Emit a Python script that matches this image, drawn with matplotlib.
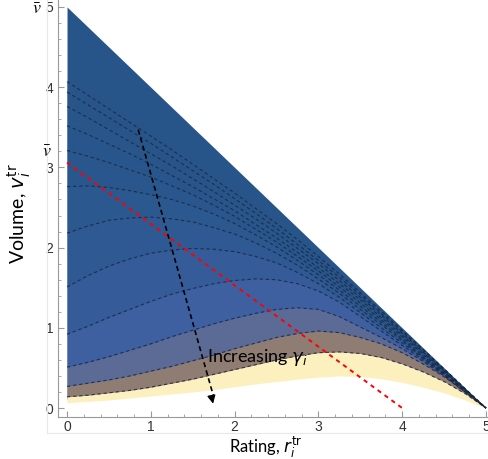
import matplotlib
matplotlib.use("Agg")
import matplotlib.pyplot as plt
from matplotlib.lines import Line2D
import numpy as np

# rating grid and boundary curves (volume)
rating = [0, 0.25, 0.5, 0.75, 1, 1.25, 1.5, 1.75, 2, 2.25, 2.5, 2.75, 3,
          3.25, 3.5, 3.75, 4, 4.25, 4.5, 4.75, 5]
v_max = [5, 4.75, 4.5, 4.25, 4, 3.75, 3.5, 3.25, 3, 2.75, 2.5, 2.25, 2,
         1.75, 1.5, 1.25, 1, 0.75, 0.5, 0.25, 0]
curves = [
    [4.07, 3.90, 3.73, 3.56, 3.39, 3.22, 3.04, 2.86, 2.68, 2.49, 2.30, 2.10, 1.89, 1.67, 1.44, 1.21, 0.97, 0.73, 0.49, 0.245, 0],
    [3.94, 3.78, 3.62, 3.46, 3.30, 3.13, 2.96, 2.79, 2.61, 2.43, 2.24, 2.04, 1.84, 1.63, 1.41, 1.18, 0.95, 0.72, 0.48, 0.24, 0],
    [3.76, 3.62, 3.47, 3.32, 3.17, 3.02, 2.86, 2.70, 2.53, 2.36, 2.18, 1.99, 1.80, 1.59, 1.38, 1.16, 0.93, 0.70, 0.47, 0.235, 0],
    [3.52, 3.41, 3.29, 3.17, 3.04, 2.90, 2.76, 2.61, 2.46, 2.29, 2.12, 1.94, 1.75, 1.55, 1.35, 1.13, 0.91, 0.69, 0.46, 0.23, 0],
    [3.21, 3.14, 3.06, 2.97, 2.88, 2.77, 2.66, 2.53, 2.39, 2.23, 2.07, 1.89, 1.71, 1.51, 1.31, 1.10, 0.89, 0.67, 0.45, 0.225, 0],
    [2.76, 2.77, 2.75, 2.71, 2.66, 2.60, 2.52, 2.42, 2.30, 2.16, 2.01, 1.84, 1.66, 1.47, 1.27, 1.07, 0.86, 0.65, 0.44, 0.22, 0],
    [2.18, 2.27, 2.34, 2.37, 2.38, 2.36, 2.32, 2.25, 2.17, 2.06, 1.93, 1.78, 1.61, 1.43, 1.23, 1.04, 0.84, 0.63, 0.43, 0.215, 0],
    [1.51, 1.65, 1.77, 1.86, 1.93, 1.97, 1.99, 1.98, 1.95, 1.89, 1.81, 1.69, 1.55, 1.38, 1.19, 1.00, 0.81, 0.62, 0.42, 0.21, 0],
    [0.92, 1.02, 1.13, 1.23, 1.33, 1.42, 1.49, 1.55, 1.59, 1.61, 1.60, 1.55, 1.46, 1.32, 1.14, 0.96, 0.78, 0.60, 0.41, 0.205, 0],
    [0.51, 0.57, 0.64, 0.72, 0.80, 0.89, 0.97, 1.05, 1.12, 1.18, 1.23, 1.25, 1.23, 1.14, 1.01, 0.88, 0.74, 0.58, 0.40, 0.20, 0],
    [0.27, 0.31, 0.35, 0.40, 0.46, 0.52, 0.59, 0.66, 0.74, 0.81, 0.88, 0.93, 0.96, 0.94, 0.88, 0.80, 0.69, 0.55, 0.39, 0.20, 0],
    [0.14, 0.16, 0.19, 0.22, 0.26, 0.31, 0.36, 0.42, 0.48, 0.54, 0.60, 0.65, 0.69, 0.70, 0.68, 0.63, 0.55, 0.45, 0.33, 0.18, 0],
]
v_min = [0.066, 0.083, 0.10, 0.125, 0.15, 0.175, 0.20, 0.23, 0.265, 0.30, 0.33,
         0.36, 0.385, 0.40, 0.395, 0.365, 0.32, 0.26, 0.19, 0.10, 0]

band_colors = ['#27558a', '#27558a', '#27558a', '#28568b', '#28568c', '#29578d',
               '#2b588f', '#2e5993', '#355c99', '#3e60a0', '#5b6b96', '#8f7c73',
               '#fdf0bf']

# red threshold line
red_r = [0, 4]
red_v = [3.06, 0]

# arrow "Increasing gamma"
arrow_start = (0.85, 3.47)
arrow_end = (1.75, 0.02)

fig = plt.figure(figsize=(4.89, 4.59), dpi=100)
ax = fig.add_axes([58.3/489, 1-416.7/459, 1-58.3/489, 416.7/459])

# each band reaches into the band below it (drawn top first) so no seams show
bounds = [v_max] + curves + [v_min]
n = len(band_colors)
for i in range(n):
    if i + 2 < n:
        lower = bounds[i+2]
    elif i + 2 == n:
        lower = (np.array(curves[-1]) + np.array(v_min)) / 2
    else:
        lower = v_min
    ax.fill_between(rating, lower, bounds[i], color=band_colors[i], lw=0, zorder=1)
for c in curves:
    ax.plot(rating, c, ls=(0, (3, 2.5)), color='#1a2740', lw=0.8, alpha=0.85, zorder=2)

ax.plot(red_r, red_v, ls=(0, (2.2, 2.2)), color='red', lw=1.4, zorder=3)

ax.plot([arrow_start[0], arrow_end[0]], [arrow_start[1], arrow_end[1] + 0.12],
        ls=(0, (3, 2)), color='black', lw=1.2, zorder=4)
ax.annotate('', xy=arrow_end, xytext=(arrow_end[0] - 0.03, arrow_end[1] + 0.15),
            arrowprops=dict(arrowstyle='-|>', color='black', lw=1, mutation_scale=12),
            zorder=4)

ax.text(1.67, 0.63, r'Increasing $\gamma_i$', fontsize=13, family='Lato',
        va='center', ha='left', zorder=5)

ax.set_xlim(-0.104, 5.036)
ax.set_ylim(-0.108, 5.087)
ax.set_xticks([0, 1, 2, 3, 4, 5])
ax.set_yticks([0, 1, 2, 3, 4, 5])
ax.set_xticks(np.arange(0, 5.01, 0.2), minor=True)
ax.set_yticks(np.arange(0, 5.01, 0.2), minor=True)
ax.tick_params(which='both', direction='in', color='#999999', labelsize=10,
               labelcolor='#333333')
ax.tick_params(which='major', length=4)
ax.tick_params(which='minor', length=2.5)
ax.tick_params(axis='x', which='major', pad=2.5)
for lab in ax.get_xticklabels() + ax.get_yticklabels():
    lab.set_family('Liberation Sans')
for s in ['top', 'right']:
    ax.spines[s].set_visible(False)
for s in ['left', 'bottom']:
    ax.spines[s].set_color('#999999')
ax.patch.set_alpha(0)

fig.text(19/489, 1-214/459, r'Volume, $v_i^{\mathrm{tr}}$', rotation=90,
         fontsize=14, family='Lato', ha='center', va='center')
fig.text(266/489, 1-447.5/459, r'Rating, $r_i^{\mathrm{tr}}$',
         fontsize=12, family='Lato', ha='center', va='center')
fig.text(37/489, 1-9/459, r'$\bar{\bar{v}}$', fontsize=13, ha='center',
         va='center', math_fontfamily='stix')
fig.text(47/489, 1-152/459, r'$\bar{v}$', fontsize=13, ha='center',
         va='center', math_fontfamily='stix')

fig.add_artist(Line2D([47/489, 47/489], [1-433/459, 1], color='#e8e8e8', lw=0.8))
fig.add_artist(Line2D([47/489, 1], [1-433/459, 1-433/459], color='#e8e8e8', lw=0.8))

fig.savefig('out.png', dpi=100)
